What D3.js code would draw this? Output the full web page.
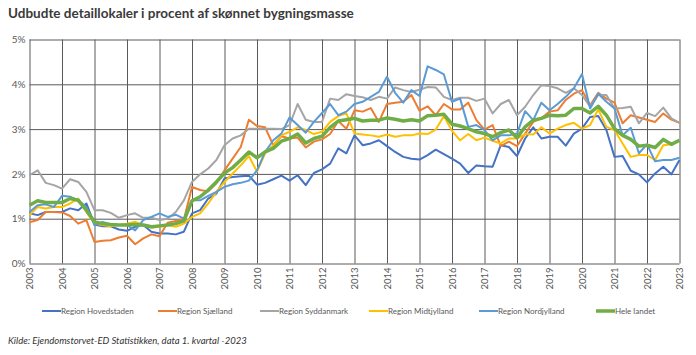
<!DOCTYPE html>
<html><head><meta charset="utf-8">
<script src="https://cdn.jsdelivr.net/npm/d3@7"></script>
<style>
body{margin:0;background:#fff;font-family:Lato,"Open Sans",sans-serif;}
svg{display:block}
</style></head>
<body>
<svg id="c" width="696" height="355"></svg>
<script>
const title = "Udbudte detaillokaler i procent af skønnet bygningsmasse";
const source = "Kilde: Ejendomstorvet-ED Statistikken, data 1. kvartal -2023";
const years = d3.range(2003, 2024);
const yTicks = [0, 1, 2, 3, 4, 5];
const seriesNames = ["Region Hovedstaden","Region Sjælland","Region Syddanmark","Region Midtjylland","Region Nordjylland","Hele landet"];
const seriesColors = ["#4472C4","#ED7D31","#A5A5A5","#FFC000","#5B9BD5","#70AD47"];

// quarterly values 2003Q1 .. 2023Q1 (percent)
const hovedstaden = [1.12,1.08,1.15,1.15, 1.15,1.23,1.19,1.34, 0.87,0.83,0.83,0.76, 0.73,0.82,0.86,0.71, 0.67,0.67,0.65,0.71,
 1.12,1.19,1.45,1.56, 1.90,1.93,1.95,1.96, 1.76,1.80,1.88,1.96, 1.85,1.97,1.75,2.02, 2.10,2.23,2.57,2.46,
 2.86,2.64,2.68,2.75, 2.62,2.49,2.38,2.34, 2.32,2.42,2.54,2.44, 2.34,2.23,2.02,2.19, 2.17,2.16,2.64,2.60,
 2.40,2.79,3.04,2.79, 2.83,2.83,2.63,2.90, 3.01,3.27,3.29,2.98, 2.38,2.40,2.07,1.99, 1.81,2.01,2.16,1.99, 2.31];
const sjaelland = [0.92,0.97,1.15,1.15, 1.14,1.06,0.89,0.97, 0.48,0.51,0.52,0.58, 0.62,0.43,0.56,0.65, 0.61,0.91,0.95,0.98,
 1.71,1.64,1.61,1.79, 2.08,2.34,2.60,3.21, 3.07,3.04,2.64,2.84, 2.79,2.81,2.59,2.72, 2.77,2.89,3.18,3.01,
 3.42,3.39,3.47,3.16, 3.56,3.59,3.61,3.76, 3.41,3.51,3.31,3.56, 3.44,3.44,3.59,3.20, 2.99,3.09,2.62,2.72,
 2.62,2.90,3.16,3.24, 3.39,3.42,3.65,3.79, 3.87,3.53,3.81,3.68, 3.59,3.13,3.31,3.26, 3.21,3.16,3.35,3.21, 3.14];
const syddanmark = [1.97,2.08,1.80,1.75, 1.67,1.88,1.82,1.60, 1.19,1.19,1.13,1.02, 1.08,1.12,1.02,1.02, 0.97,1.00,1.15,1.41,
 1.82,1.99,2.12,2.31, 2.64,2.79,2.86,3.01, 3.01,3.01,3.01,3.00, 3.09,3.56,3.21,3.16, 3.16,3.68,3.65,3.78,
 3.74,3.71,3.65,3.72, 3.68,3.93,3.87,3.83, 3.88,3.94,3.93,3.72, 3.65,3.70,3.70,3.63, 3.68,3.35,3.56,3.65,
 3.31,3.50,3.76,3.98, 3.96,3.91,3.81,3.91, 3.76,3.50,3.76,3.76, 3.46,3.47,3.50,3.13, 3.36,3.29,3.48,3.24, 3.14];
const midtjylland = [1.08,1.26,1.23,1.26, 1.26,1.34,1.45,1.15, 0.89,0.86,0.83,0.86, 0.89,0.93,0.86,0.80, 0.82,0.86,0.82,0.89,
 1.04,1.12,1.34,1.60, 1.82,2.01,2.19,2.40, 2.05,2.46,2.64,2.86, 2.94,3.04,2.98,2.89, 2.94,3.16,3.29,3.35,
 2.90,2.88,2.86,2.83, 2.88,2.83,2.86,2.86, 2.90,2.89,2.99,3.29, 2.96,2.75,2.89,2.75, 2.81,2.74,2.68,2.79,
 2.79,2.89,2.88,3.04, 2.90,3.01,3.09,3.14, 3.01,3.09,3.44,3.05, 2.98,2.68,2.38,2.42, 2.42,2.31,2.64,2.66, 2.75];
const nordjylland = [1.15,1.30,1.32,1.26, 1.51,1.49,1.41,1.26, 0.86,0.93,0.87,0.86, 0.86,0.74,0.97,1.04, 1.12,1.04,1.09,1.00,
 1.41,1.41,1.51,1.60, 1.71,1.77,1.80,1.85, 2.08,2.49,2.75,2.90, 3.26,3.09,2.92,3.16, 3.36,3.56,3.31,3.39,
 3.56,3.61,3.72,3.83, 4.17,3.81,3.59,3.87, 3.74,4.40,4.32,4.22, 3.61,3.68,3.05,3.09, 2.98,2.75,2.86,2.86,
 2.90,3.40,3.20,3.59, 3.42,3.56,3.72,3.91, 4.23,3.46,3.79,3.61, 3.46,2.86,3.03,2.46, 2.66,2.28,2.31,2.31, 2.36];
const heleLandet = [1.30,1.40,1.36,1.36, 1.36,1.45,1.41,1.19, 0.93,0.89,0.87,0.86, 0.86,0.87,0.86,0.82, 0.84,0.86,0.89,0.95,
 1.40,1.49,1.64,1.82, 2.02,2.14,2.31,2.49, 2.36,2.49,2.57,2.73, 2.79,2.89,2.69,2.79, 2.84,3.04,3.18,3.21,
 3.24,3.18,3.20,3.20, 3.25,3.22,3.18,3.21, 3.18,3.30,3.31,3.33, 3.11,3.07,3.01,2.94, 2.90,2.83,2.92,2.98,
 2.81,3.05,3.20,3.24, 3.31,3.30,3.31,3.46, 3.46,3.36,3.51,3.31, 3.01,2.86,2.77,2.62, 2.64,2.59,2.77,2.66, 2.75];
const seriesValues = [hovedstaden, sjaelland, syddanmark, midtjylland, nordjylland, heleLandet];

const svg = d3.select("#c");
const m = {left:29.5, right:696-679.5, top:39.5, bottom:355-263.5};
const W = 696, H = 355;
const x = d3.scaleLinear().domain([2003, 2023]).range([m.left, W - m.right]);
const y = d3.scaleLinear().domain([0, 5]).range([H - m.bottom, m.top]);
const gridColor = "#5a5a5a";

svg.append("text").attr("x", 8).attr("y", 18).text(title)
  .attr("font-size", 13.5).attr("font-weight", 700).attr("fill", "#3a3a3a");

// horizontal grid
const yAxis = svg.append("g").attr("transform", `translate(${m.left},0)`)
  .call(d3.axisLeft(y).tickValues(yTicks).tickSize(-(W - m.left - m.right)).tickFormat(d => d + "%"));
yAxis.select(".domain").remove();
yAxis.selectAll("line").attr("stroke", gridColor).attr("stroke-width", 1);
yAxis.selectAll("text").attr("x", -4).attr("font-size", 10).attr("fill", "#595959").attr("font-family", "Lato");

// vertical grid + labels
const xAxis = svg.append("g").attr("transform", `translate(0,${H - m.bottom})`)
  .call(d3.axisBottom(x).tickValues(years).tickSize(-(H - m.top - m.bottom)).tickFormat(d3.format("d")));
xAxis.select(".domain").remove();
xAxis.selectAll("line").attr("stroke", gridColor).attr("stroke-width", 1);
xAxis.selectAll("text").attr("transform", "rotate(-90)").attr("text-anchor", "end")
  .attr("x", -4).attr("y", 0).attr("dy", "0.32em").attr("dx", 0)
  .attr("font-size", 9.5).attr("fill", "#595959").attr("font-family", "Lato");

const line = d3.line().x((d, i) => x(2003 + i / 4)).y(d => y(d));
seriesValues.forEach((vals, k) => {
  svg.append("path").datum(vals).attr("d", line).attr("fill", "none")
    .attr("stroke", seriesColors[k]).attr("stroke-width", k === 5 ? 3.5 : 2)
    .attr("stroke-linejoin", "round");
});

// legend
const legX = [42, 158, 260, 369, 479, 596];
const lg = svg.append("g");
seriesNames.forEach((n, k) => {
  lg.append("line").attr("x1", legX[k]).attr("x2", legX[k] + 19).attr("y1", 311).attr("y2", 311)
    .attr("stroke", seriesColors[k]).attr("stroke-width", k === 5 ? 3.5 : 2);
  lg.append("text").attr("x", legX[k] + 19).attr("y", 314).text(n)
    .attr("font-size", 8).attr("fill", "#595959");
});

svg.append("text").attr("x", 8).attr("y", 344).text(source)
  .attr("font-size", 9.5).attr("font-style", "italic").attr("fill", "#333");
</script>
</body></html>
